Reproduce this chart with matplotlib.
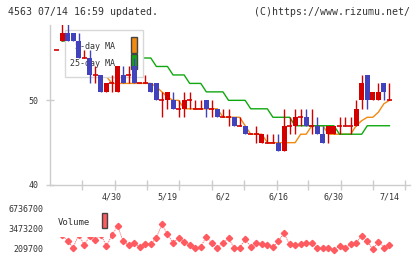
import matplotlib
matplotlib.use("Agg")
import matplotlib.pyplot as plt
from matplotlib.patches import Rectangle
from matplotlib.transforms import blended_transform_factory

# daily candles (oldest -> newest)
opens = [56, 57, 58, 58, 57, 55, 55, 53, 53, 51, 52, 51, 53, 53, 54, 52, 52, 52, 52, 50,
         50, 50, 49, 49, 50, 49, 49, 50, 49, 49, 48, 48, 48, 47, 47, 46, 46, 45, 45, 45,
         45, 44, 47, 47, 48, 48, 47, 47, 46, 46, 46, 47, 47, 47, 47, 50, 53, 50, 50, 52, 50]
highs = [56, 59, 59, 58, 58, 56, 56, 54, 53, 52, 53, 54, 54, 54, 55, 52, 53, 52, 52, 51,
         51, 51, 50, 51, 51, 50, 50, 50, 50, 49, 49, 49, 48, 48, 47, 46, 47, 46, 46, 46,
         46, 49, 48, 49, 49, 49, 49, 48, 47, 47, 47, 48, 48, 48, 50, 53, 53, 51, 52, 52, 52]
lows = [56, 57, 57, 57, 55, 55, 52, 52, 51, 51, 51, 51, 52, 52, 52, 52, 52, 51, 50, 48,
        49, 49, 48, 48, 49, 49, 49, 48, 48, 48, 48, 47, 47, 47, 46, 46, 45, 45, 45, 45,
        44, 44, 46, 46, 47, 47, 46, 46, 45, 45, 46, 46, 47, 46, 47, 49, 49, 50, 50, 50, 50]
closes = [56, 58, 57, 57, 55, 55, 53, 53, 51, 52, 52, 54, 52, 53, 52, 52, 52, 51, 50, 50,
          51, 49, 49, 50, 50, 49, 49, 49, 49, 48, 48, 48, 47, 47, 46, 46, 46, 46, 45, 45,
          44, 47, 47, 48, 48, 47, 47, 46, 45, 47, 47, 47, 47, 47, 49, 52, 50, 51, 51, 51, 50]

# moving averages as drawn (None = not drawn)
ma5 = [None, None, None, None, 56.6, 56.0, 55.2, 54.4, 53.6, 52.8,
       52.0, 52.0, 52.0, 52.0, 52.0, 52.0, 52.0, 52.0, 51.6, 51.0,
       50.4, 50.0, 50.0, 49.0, 49.0, 49.0, 49.0, 49.0, 49.0, 49.0,
       48.0, 48.0, 48.0, 48.0, 47.0, 46.0, 46.0, 46.0, 45.0, 45.0,
       45.0, 45.0, 45.0, 45.0, 46.0, 46.0, 47.0, 47.0, 47.0, 46.0,
       46.0, 46.0, 46.0, 46.0, 47.0, 47.6, 48.0, 48.0, 48.6, 49.6, 50.0]
ma25 = [None, 57.0, 57.0, 57.0, 57.0, 57.0, 56.8, 56.6, 56.4, 56.2,
        56.0, 55.8, 55.6, 55.4, 55.2, 55.0, 55.0, 55.0, 54.0, 54.0,
        54.0, 53.0, 53.0, 53.0, 52.0, 52.0, 52.0, 51.0, 51.0, 51.0,
        51.0, 50.0, 50.0, 50.0, 50.0, 49.0, 49.0, 49.0, 49.0, 48.0,
        48.0, 48.0, 48.0, 47.0, 47.0, 47.0, 47.0, 47.0, 47.0, 47.0,
        47.0, 46.0, 46.0, 46.0, 46.0, 46.0, 47.0, 47.0, 47.0, 47.0, 47.0]

volume = [3000000, 2500000, 1490000, 420000, 2500000, 850000, 2300000, 1650000, 2500000, 690000,
          2400000, 3900000, 1490000, 850000, 1120000, 580000, 960000, 960000, 2020000, 4170000,
          2570000, 1220000, 1920000, 1380000, 850000, 320000, 580000, 2180000, 1120000, 420000,
          1120000, 1920000, 420000, 420000, 1760000, 580000, 1120000, 1010000, 850000, 480000,
          1540000, 2720000, 960000, 850000, 960000, 1120000, 1120000, 420000, 420000, 420000,
          100000, 690000, 320000, 1010000, 1220000, 2290000, 1490000, 160000, 1380000, 420000, 850000]

date_pos = [10, 20, 30, 40, 50, 60]
date_labels = ["4/30", "5/19", "6/2", "6/16", "6/30", "7/14"]
week_ticks = [4.6, 10.5, 16.3, 22.1, 28.0, 33.8, 39.7, 45.3, 51.3, 57.1, 62.8]
vol_ticks = [209700, 3473200, 6736700]

RED = "#d40000"
BLUE = "#4242bd"
ORANGE = "#f08a10"
GREEN = "#10a810"
GREY = "#cccccc"
TXT = "#333333"
VOLC = "#ff5a5f"
MONO = "DejaVu Sans Mono"

fig = plt.figure(figsize=(4.2, 2.59), dpi=100)
fig.patch.set_facecolor("white")

ax = fig.add_axes([50 / 420, 1 - 185 / 259, 360 / 420, 160 / 259])
ax.set_xlim(-1.17, 63.7)
ax.set_ylim(40, 58.9)
for s in ["top", "right"]:
    ax.spines[s].set_visible(False)
for s in ["left", "bottom"]:
    ax.spines[s].set_color(GREY)
    ax.spines[s].set_linewidth(1)

ax.set_yticks([40, 50])
ax.set_yticklabels(["40", "50"], family=MONO, fontsize=6, color=TXT)
ax.tick_params(axis="y", direction="inout", length=6, width=1, color=GREY, pad=5)
ax.set_xticks(week_ticks)
ax.set_xticklabels([])
ax.tick_params(axis="x", direction="inout", length=7, width=1, color=GREY)

# moving averages (behind legend box)
idx = list(range(len(closes)))
x5 = [i for i in idx if ma5[i] is not None]
ax.plot(x5, [ma5[i] for i in x5], color=ORANGE, lw=1, zorder=2)
x25 = [i for i in idx if ma25[i] is not None]
ax.plot(x25, [ma25[i] for i in x25], color=GREEN, lw=1, zorder=2)

# legend box
ax.add_patch(Rectangle((0.0417, 0.675), 0.2166, 0.294, transform=ax.transAxes,
                       facecolor="white", edgecolor="#d8d8d8", lw=1, zorder=3))
ax.text(0.1806, 0.864, "5-day MA", transform=ax.transAxes, ha="right", va="center",
        family=MONO, fontsize=6, color=TXT, zorder=3.1)
ax.text(0.1806, 0.761, "25-day MA", transform=ax.transAxes, ha="right", va="center",
        family=MONO, fontsize=6, color=TXT, zorder=3.1)
ax.add_patch(Rectangle((0.225, 0.823), 0.0167, 0.104, transform=ax.transAxes,
                       facecolor=ORANGE, edgecolor="#444444", lw=1, zorder=3.1))
ax.add_patch(Rectangle((0.225, 0.723), 0.0167, 0.096, transform=ax.transAxes,
                       facecolor=GREEN, edgecolor="#444444", lw=1, zorder=3.1))

# candles
w = 0.9
for i in idx:
    o, h, l, c = opens[i], highs[i], lows[i], closes[i]
    col = RED if c >= o else BLUE
    ax.vlines(i, l, h, color=col, lw=1, zorder=4)
    if c == o:
        ax.hlines(c, i - w / 2, i + w / 2, color=col, lw=1.2, zorder=4)
    else:
        ax.bar(i, abs(c - o), bottom=min(o, c), width=w, color=col, lw=0, zorder=4)

tr = blended_transform_factory(ax.transData, fig.transFigure)
for p, lab in zip(date_pos, date_labels):
    fig.text(p, 1 - 197 / 259, lab, transform=tr, ha="center", va="center",
             family=MONO, fontsize=6, color=TXT)

# volume panel
vax = fig.add_axes([50 / 420, 1 - 249 / 259, 360 / 420, 40.7 / 259])
vax.set_xlim(-1.17, 63.7)
vax.set_ylim(209700, 6736700)
for s in vax.spines.values():
    s.set_visible(False)
vax.set_xticks([])
vax.set_yticks(vol_ticks)
vax.set_yticklabels([str(v) for v in vol_ticks], family=MONO, fontsize=6, color=TXT)
vax.tick_params(axis="y", length=0, pad=5)
vax.patch.set_alpha(0)
vax.plot(idx, volume, color=VOLC, lw=0.6, ls=(0, (1.5, 1)), marker="D", ms=3.2,
         mec=VOLC, mfc=VOLC, clip_on=False, zorder=2)
vax.add_patch(Rectangle((0.0, 0.295), 0.167, 0.8, transform=vax.transAxes,
                        facecolor="white", edgecolor="none", zorder=3, clip_on=False))
vax.text(0.022, 0.663, "Volume", transform=vax.transAxes, ha="left", va="center",
         family=MONO, fontsize=6.5, color=TXT, zorder=3.1)
vax.add_patch(Rectangle((0.1436, 0.516), 0.0154, 0.369, transform=vax.transAxes,
                        facecolor=VOLC, edgecolor="#444444", lw=1, zorder=3.1, clip_on=False))

fig.text(8 / 420, 1 - 12 / 259, "4563 07/14 16:59 updated.", ha="left", va="center",
         family=MONO, fontsize=7.1, color=TXT)
fig.text(410 / 420, 1 - 12 / 259, "(C)https://www.rizumu.net/", ha="right", va="center",
         family=MONO, fontsize=7.1, color=TXT)

fig.savefig("out.png", dpi=100)
